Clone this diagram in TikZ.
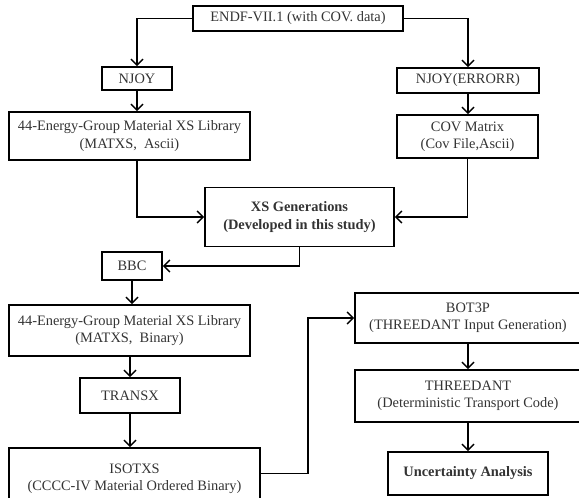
\documentclass[tikz,border=0pt]{standalone}
\usepackage{fontspec}
\setmainfont{Liberation Serif}
\usetikzlibrary{arrows.meta}
\tikzset{
  box/.style={draw=black, line width=1.2pt, align=center, inner sep=1pt, text=black!80, font=\fontsize{10.8}{13}\selectfont},
  arr/.style={line width=1.1pt, -{Straight Barb[length=4.5pt, width=9pt, line width=1.1pt]}}
}
\begin{document}
\begin{tikzpicture}[x=0.75pt, y=-0.75pt]
        \useasboundingbox (0,0) rectangle (579,498);
        \clip (0,0) rectangle (579,498);

        \node[box, minimum width=157.5pt, minimum height=18.75pt] (endf) at (298,18.5) {ENDF-VII.1 (with COV. data)};
        \node[box, minimum width=52.5pt, minimum height=17.25pt] (njoy) at (137,78.5) {NJOY};
        \node[box, minimum width=106.5pt, minimum height=18.75pt] (errorr) at (468,80.5) {NJOY(ERRORR)};
        \node[box, minimum width=180.75pt, minimum height=36pt] (matxsA) at (129.5,136) {44-Energy-Group Material XS Library\\(MATXS,\ \ Ascii)};
        \node[box, minimum width=105.75pt, minimum height=32.25pt] (cov) at (467.5,136.5) {COV Matrix\\(Cov File,Ascii)};
        \node[box, minimum width=141.75pt, minimum height=44.25pt, font=\fontsize{10.8}{13}\selectfont\bfseries] (xsgen) at (299.5,217) {XS Generations\\(Developed in this study)};
        \node[box, minimum width=45pt, minimum height=21pt] (bbc) at (132,266) {BBC};
        \node[box, minimum width=180.75pt, minimum height=38.25pt] (matxsB) at (129.5,330.5) {44-Energy-Group Material XS Library\\(MATXS,\ \ Binary)};
        \node[box, minimum width=75pt, minimum height=26.25pt] (transx) at (130,395.5) {TRANSX};
        \node[box, minimum width=188.25pt, minimum height=46.5pt] (isotxs) at (134.5,479) {ISOTXS\\(CCCC-IV Material Ordered Binary)};
        \node[box, minimum width=169.5pt, minimum height=37.5pt] (bot3p) at (468,318) {BOT3P\\(THREEDANT Input Generation)};
        \node[box, minimum width=169.5pt, minimum height=39pt] (threedant) at (468,396) {THREEDANT\\(Deterministic Transport Code)};
        \node[box, minimum width=120pt, minimum height=32.25pt, font=\fontsize{10.8}{13}\selectfont\bfseries] (unc) at (468,473.5) {Uncertainty Analysis};

        \draw[arr] (endf.west) -| (njoy.north);
        \draw[arr] (endf.east) -| (errorr.north);
        \draw[arr] (njoy.south) -- (njoy.south |- matxsA.north);
        \draw[arr] (errorr.south) -- (errorr.south |- cov.north);
        \draw[arr] (matxsA.south -| njoy.south) |- (xsgen.west);
        \draw[arr] (cov.south) |- (xsgen.east);
        \draw[arr] (xsgen.south) |- (bbc.east);
        \draw[arr] (bbc.south) -- (bbc.south |- matxsB.north);
        \draw[arr] (transx.north |- matxsB.south) -- (transx.north);
        \draw[arr] (transx.south) -- (transx.south |- isotxs.north);
        \draw[arr] ([yshift=4pt]isotxs.east) -- ++(47,0) |- (bot3p.west);
        \draw[arr] (bot3p.south) -- (threedant.north);
        \draw[arr] (threedant.south) -- (unc.north);
    \end{tikzpicture}
\end{document}
